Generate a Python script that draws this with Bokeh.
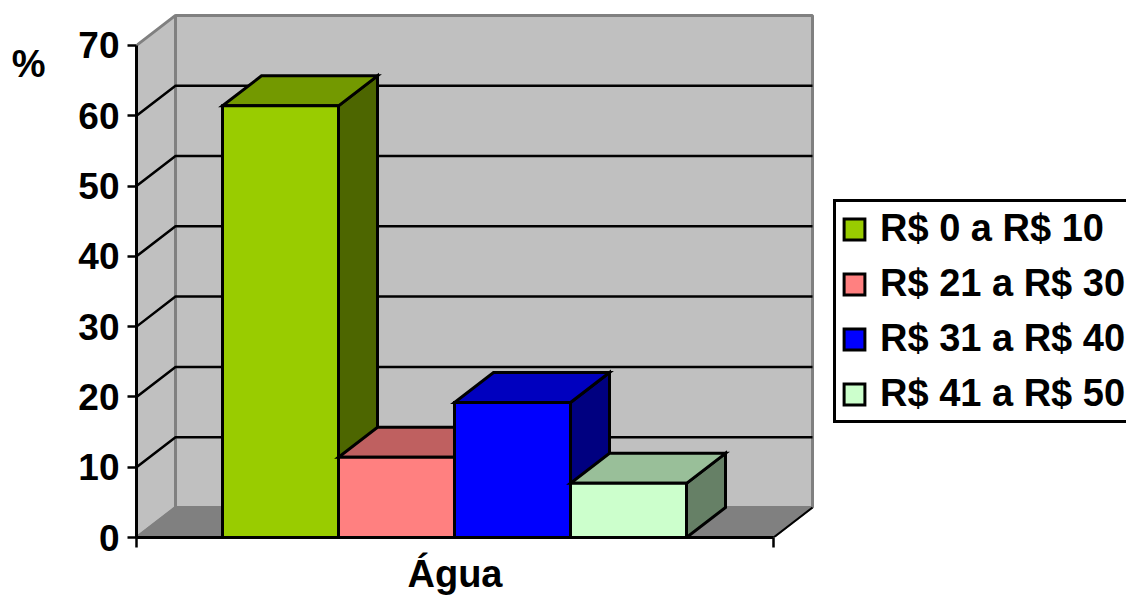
from bokeh.embed import file_html
from bokeh.resources import INLINE
from bokeh.plotting import figure
from bokeh.models import Legend, LegendItem, FixedTicker, Range1d, LinearAxis

# Survey results for the "Água" expense category, in percent
category = "Água"
series_names = ["R$ 0 a R$ 10", "R$ 21 a R$ 30", "R$ 31 a R$ 40", "R$ 41 a R$ 50"]
series_values = [61.4, 11.4, 19.2, 7.7]
y_ticks = [0, 10, 20, 30, 40, 50, 60, 70]
unit_label = "%"
unit_label_at = 67.4
category_label_at = 0.5

front_colors = ["#99CC00", "#FF8080", "#0000FF", "#CCFFCC"]
top_colors = ["#739900", "#BF6060", "#0000BF", "#99BF99"]
side_colors = ["#4D6600", "#804040", "#000080", "#668066"]

FONT = "Liberation Sans"
W, H = 1126, 597
LEFT, BOTTOM = 136, 60          # plot frame margins
PX_PER_X, PX_PER_Y = 637, 7.03  # pixels per category width / per percent
DX, DY = 39 / PX_PER_X, 30 / PX_PER_Y  # oblique depth of the box
BAR_W = 116 / PX_PER_X
BAR_START = 86 / PX_PER_X
Y_MAX = 70

p = figure(
    width=W, height=H, output_backend="svg", toolbar_location=None,
    x_range=Range1d(0, (W - LEFT) / PX_PER_X),
    y_range=Range1d(0, (H - BOTTOM) / PX_PER_Y),
    min_border_left=LEFT, min_border_bottom=BOTTOM, min_border_top=0, min_border_right=0,
    outline_line_color=None, background_fill_color="white", border_fill_color="white",
)
p.grid.visible = False

WALL = "#C0C0C0"
EDGE = "#808080"

# Back and side walls, then the floor
p.patch([DX, 1 + DX, 1 + DX, DX], [DY, DY, Y_MAX + DY, Y_MAX + DY],
        fill_color=WALL, line_color=EDGE, line_width=3)
p.patch([0, DX, DX, 0], [0, DY, Y_MAX + DY, Y_MAX],
        fill_color=WALL, line_color=EDGE, line_width=3)
p.patch([0, DX, 1 + DX, 1], [0, DY, DY, 0],
        fill_color=EDGE, line_color=EDGE, line_width=2)
p.line([1, 1 + DX], [0, DY], line_color="black", line_width=2)

# Gridlines run along the side wall and across the back wall
for t in y_ticks[1:-1]:
    p.line([0, DX, 1 + DX], [t, t + DY, t + DY], line_color="black", line_width=2.5)

# Boxes, left to right, so later ones overlap the side of the previous one
fronts = []
for i, v in enumerate(series_values):
    x0 = BAR_START + i * BAR_W
    x1 = x0 + BAR_W
    kw = dict(line_color="black", line_width=3, line_join="miter")
    p.patch([x1, x1 + DX, x1 + DX, x1], [0, DY, v + DY, v], fill_color=side_colors[i], **kw)
    p.patch([x0, x1, x1 + DX, x0 + DX], [v, v, v + DY, v + DY], fill_color=top_colors[i], **kw)
    fronts.append(p.quad(left=[x0], right=[x1], bottom=[0], top=[v], fill_color=front_colors[i], **kw))

# Value axis
yax = p.yaxis[0]
yax.ticker = FixedTicker(ticks=y_ticks)
yax.bounds = (0, Y_MAX)
yax.major_tick_out = 9
yax.major_tick_in = 0
yax.minor_tick_out = 0
yax.minor_tick_in = 0
yax.major_tick_line_width = 2.5
yax.axis_line_width = 3
yax.major_tick_line_color = "black"
yax.axis_line_color = "black"
yax.major_label_standoff = 8
yax.major_label_text_font = FONT
yax.major_label_text_font_style = "bold"
yax.major_label_text_font_size = "37px"
yax.major_label_text_color = "black"

# Bare outer axes carry the unit and the category name as single tick labels
def label_axis(at, text, standoff, size):
    return LinearAxis(
        ticker=FixedTicker(ticks=[at]),
        major_label_overrides={at: text},
        major_tick_out=0, major_tick_in=0, minor_tick_out=0, minor_tick_in=0,
        axis_line_color=None, major_tick_line_color=None,
        major_label_standoff=standoff,
        major_label_text_font=FONT, major_label_text_font_style="bold",
        major_label_text_font_size=size, major_label_text_color="black",
    )

p.add_layout(label_axis(unit_label_at, unit_label, 30, "38px"), "left")

# Category axis
xax = p.xaxis[0]
xax.ticker = FixedTicker(ticks=[0, 1])
xax.bounds = (0, 1)
xax.major_tick_out = 10
xax.major_tick_in = 0
xax.minor_tick_out = 0
xax.minor_tick_in = 0
xax.major_tick_line_width = 2.5
xax.axis_line_width = 3
xax.major_tick_line_color = "black"
xax.axis_line_color = "black"
xax.major_label_overrides = {0: "", 1: ""}
xax.major_label_standoff = 0
p.add_layout(label_axis(category_label_at, category, 5, "38px"), "below")

legend = Legend(
    items=[LegendItem(label=n, renderers=[r]) for n, r in zip(series_names, fronts)],
    location=(833 - LEFT, 537 - 423),
    orientation="vertical",
    border_line_color="black", border_line_width=3, background_fill_color="white",
    background_fill_alpha=1, border_line_alpha=1,
    padding=5, spacing=12, margin=0,
    glyph_width=26, glyph_height=26, label_standoff=13, label_height=41,
    label_text_font=FONT, label_text_font_style="bold", label_text_font_size="38px",
    label_text_color="black", label_text_baseline="middle",
)
p.add_layout(legend, "center")

open("out.html", "w").write(file_html(p, INLINE))
